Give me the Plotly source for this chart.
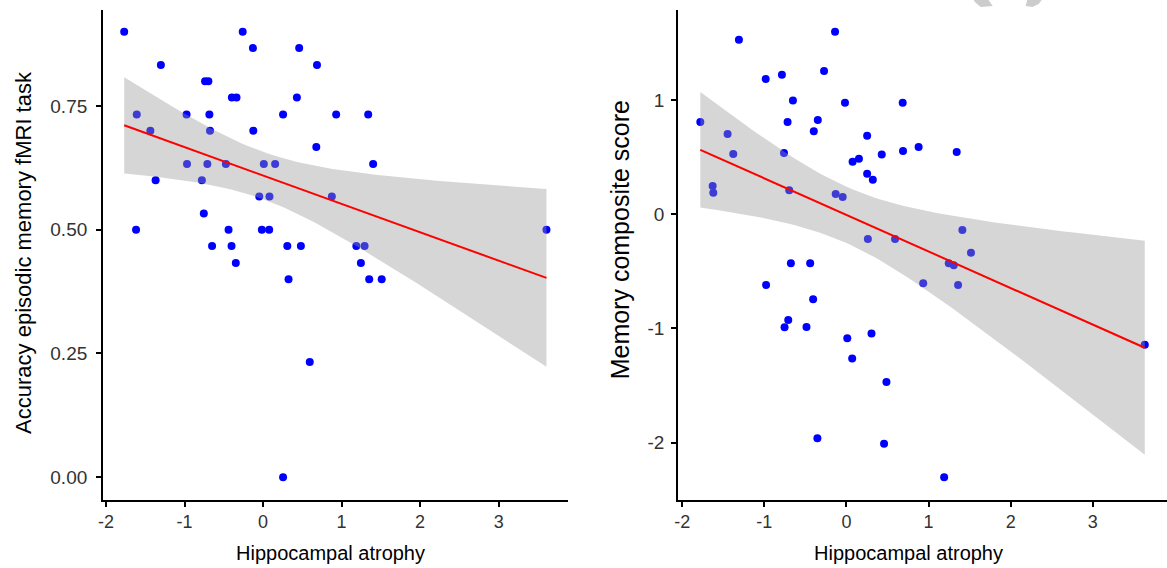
import numpy as np
import plotly.graph_objects as go

# ---------------- data ----------------
atrophy_left = [-1.768, -0.259, -0.129, 0.460, -1.301, 0.687, -0.738, -0.696, -0.397, -0.338,
                0.431, -1.608, -0.974, -0.683, 0.255, 0.931, 1.339, -1.435, -0.675, -0.124,
                0.678, -0.968, -0.709, -0.473, 0.010, 0.154, 1.402, -1.368, -0.779, -0.048,
                0.082, 0.876, -0.754, -1.617, -0.439, -0.015, 0.078, 3.609, -0.649, -0.401,
                0.309, 0.482, 1.188, 1.293, 1.246, 1.352, 1.511, -0.347, 0.325, 0.595, 0.255]
accuracy = [0.900, 0.900, 0.867, 0.867, 0.833, 0.833, 0.800, 0.800, 0.767, 0.767,
            0.767, 0.733, 0.733, 0.733, 0.733, 0.733, 0.733, 0.700, 0.700, 0.700,
            0.667, 0.633, 0.633, 0.633, 0.633, 0.633, 0.633, 0.600, 0.600, 0.567,
            0.567, 0.567, 0.533, 0.500, 0.500, 0.500, 0.500, 0.500, 0.467, 0.467,
            0.467, 0.467, 0.467, 0.467, 0.433, 0.400, 0.400, 0.433, 0.400, 0.233, 0.000]

atrophy_right = [-1.310, -0.139, -0.984, -0.786, -0.273, -0.652, -0.018, 0.685, -1.780, -0.717,
                 -0.349, -0.398, -1.448, 0.252, -1.379, -0.761, 0.075, 0.152, 0.430, 0.689,
                 0.252, 0.321, -1.630, -1.622, -0.697, -0.131, -0.046, 0.261, 0.592, -0.677,
                 -0.442, 0.879, 1.343, 1.412, 1.517, 1.246, 1.307, 0.935, 1.360, 3.634,
                 1.190, -0.979, -0.406, -0.709, -0.754, -0.487, 0.010, 0.305, 0.070, 0.487,
                 -0.354, 0.458]
memory_score = [1.529, 1.599, 1.185, 1.222, 1.255, 0.998, 0.977, 0.977, 0.808, 0.808,
                0.826, 0.727, 0.703, 0.688, 0.528, 0.537, 0.461, 0.487, 0.525, 0.554,
                0.356, 0.303, 0.248, 0.189, 0.210, 0.178, 0.151, -0.216, -0.216, -0.429,
                -0.429, 0.589, 0.546, -0.137, -0.336, -0.429, -0.447, -0.604, -0.619, -1.142,
                -2.303, -0.619, -0.744, -0.926, -0.990, -0.987, -1.086, -1.045, -1.264, -1.468,
                -1.961, -2.009]

x_ticks = [-2, -1, 0, 1, 2, 3]
x_ticktext = ["-2", "-1", "0", "1", "2", "3"]
left_y_ticks = [0, 0.25, 0.5, 0.75]
left_y_ticktext = ["0.00", "0.25", "0.50", "0.75"]
right_y_ticks = [-2, -1, 0, 1]
right_y_ticktext = ["-2", "-1", "0", "1"]

x_title = "Hippocampal atrophy"
left_y_title = "Accuracy episodic memory fMRI task"
right_y_title = "Memory composite score"

# ---------------- helpers ----------------
W, H = 1167, 568
FONT = "Liberation Sans, Arial, sans-serif"


def px(x):
    return x / W


def py(y):
    return 1 - y / H


def fit_band(x, y, t=2.01, n=80):
    x = np.asarray(x, float)
    y = np.asarray(y, float)
    b1, b0 = np.polyfit(x, y, 1)
    resid = y - (b0 + b1 * x)
    s = np.sqrt(np.sum(resid ** 2) / (len(x) - 2))
    xm = x.mean()
    sxx = np.sum((x - xm) ** 2)
    grid = np.linspace(x.min(), x.max(), n)
    fit = b0 + b1 * grid
    se = s * np.sqrt(1 / len(x) + (grid - xm) ** 2 / sxx)
    return grid, fit, fit - t * se, fit + t * se


def expanded(v, f=0.05):
    lo, hi = min(v), max(v)
    d = (hi - lo) * f
    return [lo - d, hi + d]


fig = go.Figure()

panels = [
    (atrophy_left, accuracy, "x", "y"),
    (atrophy_right, memory_score, "x2", "y2"),
]
for xs, ys, xa, ya in panels:
    fig.add_trace(go.Scatter(x=xs, y=ys, mode="markers", xaxis=xa, yaxis=ya,
                             marker=dict(color="#0000FF", size=8, line=dict(width=0)),
                             showlegend=False, hoverinfo="skip"))
    g, f, lo, hi = fit_band(xs, ys)
    fig.add_trace(go.Scatter(x=list(g) + list(g[::-1]), y=list(hi) + list(lo[::-1]),
                             fill="toself", fillcolor="rgba(153,153,153,0.4)",
                             line=dict(width=0), mode="lines", xaxis=xa, yaxis=ya,
                             showlegend=False, hoverinfo="skip"))
    fig.add_trace(go.Scatter(x=g, y=f, mode="lines", xaxis=xa, yaxis=ya,
                             line=dict(color="#FF0000", width=2),
                             showlegend=False, hoverinfo="skip"))

axis_common = dict(showgrid=False, zeroline=False, showline=True, linecolor="black",
                   linewidth=2, ticks="outside", ticklen=5, tickwidth=2, tickcolor="black")
x_font = dict(family=FONT, size=18, color="#333333")
y_font = dict(family=FONT, size=19, color="#333333")

y_dom = [py(499.5), py(9.5)]
fig.update_layout(
    width=W, height=H,
    margin=dict(l=0, r=0, t=0, b=0),
    paper_bgcolor="white", plot_bgcolor="white",
    xaxis=dict(domain=[px(98.5), px(565)], range=expanded(atrophy_left),
               tickvals=x_ticks, ticktext=x_ticktext, anchor="y",
               ticklabelstandoff=0, tickfont=x_font, **axis_common),
    yaxis=dict(domain=y_dom, range=expanded(accuracy), tickvals=left_y_ticks,
               ticktext=left_y_ticktext, anchor="x",
               ticklabelstandoff=5, tickfont=y_font, **axis_common),
    xaxis2=dict(domain=[px(676), 1.0], range=expanded(atrophy_right),
                tickvals=x_ticks, ticktext=x_ticktext, anchor="y2",
                ticklabelstandoff=0, tickfont=x_font, **axis_common),
    yaxis2=dict(domain=y_dom, range=expanded(memory_score), tickvals=right_y_ticks,
                ticktext=right_y_ticktext, anchor="x2",
                ticklabelstandoff=3, tickfont=y_font, **axis_common),
)

annotations = [
    dict(text=x_title, x=px(327), y=py(553), size=20),
    dict(text=x_title, x=px(907), y=py(553), size=20),
    dict(text=left_y_title, x=px(18), y=py(252), textangle=-90, size=22),
    dict(text=right_y_title, x=px(618), y=py(240), textangle=-90, size=25),
]
for a in annotations:
    size = a.pop("size")
    fig.add_annotation(xref="paper", yref="paper", showarrow=False,
                       xanchor="center", yanchor="middle",
                       font=dict(family=FONT, size=size, color="black"), **a)

# faint watermark fragment at the top edge
def poly(points):
    return "M " + " L ".join(f"{px(a):.4f},{py(b):.4f}" for a, b in points) + " Z"

for pts in [[(972, -1), (987, -1), (992, 6), (980, 7), (975, 3)],
            [(1027, -1), (1042, -1), (1038, 4), (1032, 7), (1025, 6)]]:
    fig.add_shape(type="path", path=poly(pts), xref="paper", yref="paper",
                  fillcolor="#cccccc", line=dict(width=0), layer="above")

fig.write_html("out.html", config={"displayModeBar": False},
               post_script="document.body.style.margin='0';document.body.style.overflow='hidden';")
